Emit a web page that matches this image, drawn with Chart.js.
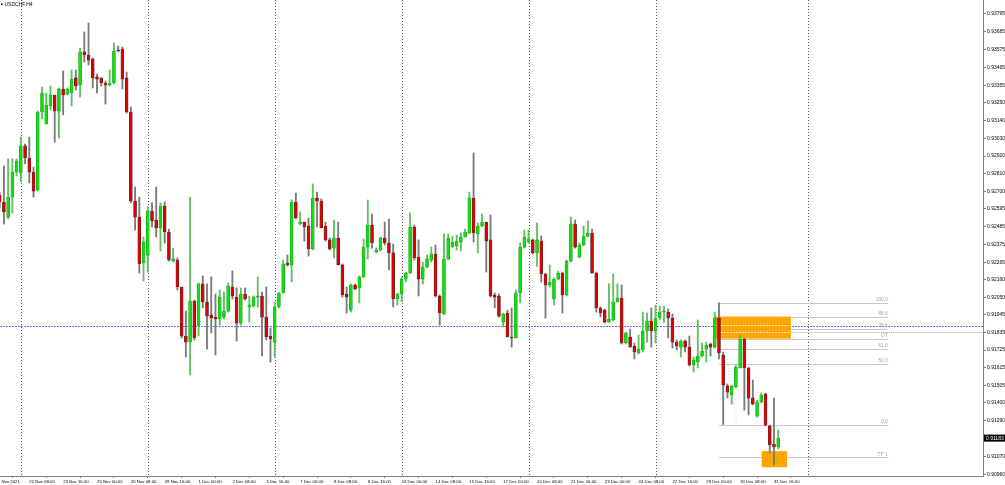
<!DOCTYPE html>
<html><head><meta charset="utf-8">
<script src="https://cdn.jsdelivr.net/npm/chart.js@4.4.1/dist/chart.umd.min.js"></script>
<style>html,body{margin:0;padding:0;background:#fff;overflow:hidden}#c{display:block}</style>
</head><body>
<canvas id="c" width="1005" height="485" style="width:1005px;height:485px"></canvas>
<script>
const symbolTitle = 'USDCHF,H4';
// H4 bars from 19 Nov 2021 04:00 to 31 Dec 2021 20:00
const openP = [0.92680,0.92637,0.92544,0.92667,0.92821,0.92815,0.92982,0.92908,0.92821,0.92711,
0.93191,0.93117,0.93228,0.93296,0.93197,0.93333,0.93302,0.93308,0.93401,0.93357,
0.93561,0.93542,0.93518,0.93407,0.93401,0.93370,0.93357,0.93370,0.93573,0.93579,
0.93401,0.93191,0.92643,0.92544,0.92261,0.92310,0.92581,0.92526,0.92477,0.92612,
0.92452,0.92273,0.92279,0.92113,0.91811,0.91774,0.92027,0.91873,0.92132,0.92021,
0.91941,0.91928,0.91916,0.91928,0.91965,0.92113,0.92051,0.91891,0.92070,0.91990,
0.91996,0.92051,0.92058,0.91928,0.91811,0.91774,0.91990,0.92076,0.92261,0.92249,
0.92637,0.92501,0.92513,0.92489,0.92347,0.92661,0.92643,0.92489,0.92403,0.92353,
0.92415,0.92249,0.92070,0.91971,0.92125,0.92107,0.92175,0.92359,0.92495,0.92329,
0.92341,0.92415,0.92384,0.92323,0.92039,0.92070,0.92162,0.92199,0.92483,0.92298,
0.92162,0.92236,0.92279,0.92316,0.92058,0.91947,0.92286,0.92359,0.92366,0.92390,
0.92421,0.92446,0.92661,0.92440,0.92489,0.92513,0.92403,0.92064,0.92058,0.91897,
0.91953,0.91805,0.91799,0.92076,0.92359,0.92390,0.92403,0.92323,0.92396,0.92193,
0.92125,0.92039,0.92162,0.92199,0.92064,0.92273,0.92501,0.92298,0.92372,0.92427,
0.92446,0.92199,0.91984,0.91971,0.91897,0.91910,0.92021,0.92045,0.91768,0.91805,
0.91750,0.91707,0.91725,0.91842,0.91904,0.91842,0.91922,0.91959,0.91959,0.91922,
0.91774,0.91743,0.91780,0.91743,0.91633,0.91651,0.91688,0.91731,0.91762,0.91743,
0.91922,0.91694,0.91503,0.91448,0.91497,0.91614,0.91793,0.91614,0.91429,0.91318,
0.91405,0.91454,0.91257,0.91146,0.91128];
const highP = [0.92698,0.92858,0.92902,0.92902,0.92902,0.93037,0.92994,0.93037,0.92852,0.93197,
0.93345,0.93308,0.93351,0.93296,0.93339,0.93444,0.93339,0.93450,0.93450,0.93585,
0.93684,0.93739,0.93524,0.93425,0.93401,0.93382,0.93450,0.93616,0.93598,0.93591,
0.93437,0.93222,0.92729,0.92667,0.92421,0.92606,0.92631,0.92729,0.92631,0.92637,
0.92470,0.92353,0.92292,0.92113,0.91965,0.92667,0.92033,0.92138,0.92181,0.92132,
0.92175,0.92070,0.92095,0.92082,0.92138,0.92212,0.92107,0.92107,0.92107,0.92058,
0.92058,0.92175,0.92082,0.92113,0.91861,0.92021,0.92082,0.92279,0.92310,0.92649,
0.92692,0.92575,0.92513,0.92538,0.92748,0.92698,0.92655,0.92513,0.92415,0.92526,
0.92513,0.92255,0.92113,0.92132,0.92132,0.92181,0.92409,0.92649,0.92563,0.92353,
0.92421,0.92513,0.92532,0.92378,0.92076,0.92175,0.92205,0.92569,0.92495,0.92403,
0.92267,0.92310,0.92359,0.92372,0.92064,0.92440,0.92440,0.92427,0.92433,0.92446,
0.92470,0.92698,0.92939,0.92507,0.92563,0.92513,0.92557,0.92076,0.92070,0.91953,
0.91971,0.91984,0.92095,0.92384,0.92464,0.92464,0.92409,0.92507,0.92427,0.92199,
0.92249,0.92169,0.92212,0.92205,0.92279,0.92544,0.92526,0.92384,0.92489,0.92520,
0.92470,0.92205,0.91990,0.91978,0.92132,0.92193,0.92132,0.92125,0.91836,0.91854,
0.91768,0.91817,0.91959,0.91953,0.91984,0.92002,0.91996,0.91996,0.91978,0.91947,
0.91787,0.91787,0.91787,0.91811,0.91682,0.91910,0.91768,0.91774,0.91768,0.91959,
0.92016,0.91713,0.91516,0.91509,0.91633,0.91817,0.91799,0.91620,0.91540,0.91417,
0.91460,0.91460,0.91263,0.91429,0.91232];
const lowP = [0.92600,0.92501,0.92532,0.92569,0.92797,0.92760,0.92871,0.92754,0.92667,0.92704,
0.93148,0.93117,0.93203,0.93006,0.93031,0.93173,0.93296,0.93228,0.93327,0.93283,
0.93499,0.93481,0.93339,0.93308,0.93351,0.93240,0.93351,0.93364,0.93561,0.93333,
0.93185,0.92631,0.92464,0.92199,0.92150,0.92205,0.92483,0.92421,0.92335,0.92384,
0.92273,0.92267,0.92095,0.91799,0.91682,0.91571,0.91787,0.91811,0.91984,0.91731,
0.91830,0.91694,0.91879,0.91916,0.91959,0.92039,0.91780,0.91879,0.92033,0.91897,
0.91990,0.91990,0.91688,0.91787,0.91651,0.91682,0.91984,0.92076,0.92242,0.92144,
0.92532,0.92495,0.92396,0.92304,0.92341,0.92483,0.92477,0.92396,0.92341,0.92292,
0.92249,0.92051,0.91953,0.91959,0.92095,0.92015,0.92169,0.92286,0.92353,0.92323,
0.92335,0.92372,0.92218,0.91990,0.92002,0.92021,0.92144,0.92199,0.92279,0.92058,
0.92132,0.92230,0.92267,0.92051,0.91879,0.91941,0.92279,0.92359,0.92341,0.92335,
0.92421,0.92440,0.92390,0.92323,0.92483,0.92205,0.92051,0.91984,0.91928,0.91867,
0.91805,0.91743,0.91799,0.92015,0.92353,0.92384,0.92316,0.92242,0.92144,0.91922,
0.92113,0.92002,0.92156,0.91953,0.92058,0.92267,0.92353,0.92292,0.92366,0.92421,
0.92199,0.91959,0.91928,0.91891,0.91897,0.91904,0.92021,0.91762,0.91762,0.91743,
0.91670,0.91700,0.91713,0.91774,0.91743,0.91768,0.91910,0.91897,0.91799,0.91737,
0.91725,0.91682,0.91713,0.91626,0.91589,0.91614,0.91682,0.91651,0.91688,0.91737,
0.91670,0.91266,0.91429,0.91392,0.91491,0.91614,0.91355,0.91325,0.91386,0.91312,
0.91399,0.91257,0.91091,0.91017,0.91115];
const closeP = [0.92637,0.92575,0.92667,0.92821,0.92889,0.92982,0.92908,0.92821,0.92704,0.93191,
0.93308,0.93234,0.93296,0.93197,0.93333,0.93296,0.93333,0.93394,0.93351,0.93561,
0.93542,0.93511,0.93401,0.93394,0.93370,0.93357,0.93370,0.93567,0.93567,0.93394,
0.93191,0.92643,0.92544,0.92255,0.92390,0.92581,0.92520,0.92477,0.92612,0.92452,
0.92279,0.92286,0.92113,0.91811,0.91774,0.92027,0.91799,0.92132,0.92021,0.91934,
0.91922,0.91916,0.92051,0.91965,0.92119,0.92058,0.91891,0.92070,0.92039,0.92002,
0.92051,0.92058,0.91928,0.91805,0.91793,0.91990,0.92076,0.92255,0.92249,0.92637,
0.92538,0.92513,0.92483,0.92347,0.92661,0.92643,0.92477,0.92403,0.92347,0.92415,
0.92249,0.92064,0.92051,0.92125,0.92101,0.92175,0.92359,0.92495,0.92384,0.92341,
0.92415,0.92384,0.92323,0.92039,0.92070,0.92162,0.92199,0.92483,0.92292,0.92162,
0.92236,0.92286,0.92316,0.92058,0.91953,0.92286,0.92415,0.92390,0.92396,0.92421,
0.92452,0.92661,0.92446,0.92489,0.92513,0.92396,0.92058,0.92051,0.91934,0.91947,
0.91805,0.91799,0.92076,0.92359,0.92421,0.92409,0.92323,0.92403,0.92193,0.92125,
0.92144,0.92162,0.92199,0.92064,0.92273,0.92501,0.92359,0.92372,0.92427,0.92446,
0.92199,0.91984,0.91953,0.91897,0.91916,0.92021,0.92045,0.91768,0.91830,0.91743,
0.91713,0.91731,0.91842,0.91904,0.91842,0.91922,0.91959,0.91965,0.91922,0.91774,
0.91750,0.91780,0.91743,0.91633,0.91663,0.91688,0.91719,0.91756,0.91743,0.91922,
0.91707,0.91509,0.91466,0.91503,0.91620,0.91793,0.91614,0.91429,0.91392,0.91405,
0.91448,0.91263,0.91140,0.91128,0.91183];

const xTickLabels = ['19 Nov 2021','22 Nov 08:00','23 Nov 16:00','25 Nov 00:00','26 Nov 08:00','29 Nov 16:00',
'1 Dec 00:00','2 Dec 08:00','3 Dec 16:00','7 Dec 00:00','8 Dec 08:00','9 Dec 16:00','13 Dec 00:00',
'14 Dec 08:00','15 Dec 16:00','17 Dec 00:00','20 Dec 08:00','21 Dec 16:00','23 Dec 00:00','24 Dec 08:00',
'27 Dec 16:00','29 Dec 00:00','30 Dec 08:00','31 Dec 16:00'];
const yTickLabels = ['0.93795','0.93685','0.93575','0.93465','0.93355','0.93250','0.93140','0.93030',
'0.92920','0.92810','0.92700','0.92595','0.92485','0.92375','0.92265','0.92160','0.92050','0.91945',
'0.91835','0.91725','0.91615','0.91505','0.91400','0.91290','0.91070','0.90960'];

const currentPrice = 0.91183;
const blueLinePrice = 0.91876;
const grayLinePrice = 0.91836;
const fibHigh = 0.92016;
const fibLow = 0.91266;
const fibLevels = [100, 88.6, 78.6, 70.5, 61.8, 50, 0, -27];
const fibLabels = ['100.0','88.6','78.6','OT','61.8','50.0','0.0','TP 1'];
const zoneUpperPrices = [0.91931, 0.91795];
const zoneLowerPrices = [0.91102, 0.91003];

// layout / view settings
const X_MIN = 0.075, X_MAX = 232.4;
const Y_MIN = 0.90949, Y_MAX = 0.93881;
const gridBars = [5, 35, 65, 95, 125, 155, 191];
const fibFromBar = 170, fibToBar = 210, fibTrendEndBar = 174.25;
const zoneUpperBars = [169.05, 187];
const zoneLowerBars = [180.1, 186.1];
const grayLineFromBar = 171;

const BULL = '#14dc14', BULL_EDGE = '#1f9f1f', BULL_WICK = '#5fc05f';
const BEAR = '#e00000', BEAR_EDGE = '#3a3a3a', BEAR_WICK = '#7a7a7a';
const FONT = "'Liberation Sans', Arial, sans-serif";
Chart.defaults.font.family = FONT;

const isBull = i => closeP[i] >= openP[i];
const wickData = openP.map((o, i) => ({x: i, y: [lowP[i], highP[i]]}));
const bodyData = openP.map((o, i) => ({x: i, y: [openP[i], closeP[i]]}));

const overlay = {
  id: 'overlay',
  beforeDatasetsDraw(chart) {
    const {ctx, chartArea: a, scales: {x, y}} = chart;
    const X = v => x.getPixelForValue(v), Y = v => y.getPixelForValue(v);
    const hy = v => Math.round(Y(v)) + 0.5;
    ctx.save();
    ctx.beginPath(); ctx.rect(a.left, a.top, a.right - a.left, a.bottom - a.top); ctx.clip();
    ctx.lineWidth = 1;
    // vertical dotted grid
    ctx.strokeStyle = '#555'; ctx.setLineDash([1, 2]);
    gridBars.forEach(b => {
      const px = Math.round(X(b)) + 0.5;
      ctx.beginPath(); ctx.moveTo(px, a.top); ctx.lineTo(px, a.bottom); ctx.stroke();
    });
    // fibonacci levels
    const fr = fibHigh - fibLow;
    const fx0 = X(fibFromBar), fx1 = X(fibToBar);
    ctx.setLineDash([]); ctx.strokeStyle = '#c8c8c8';
    fibLevels.forEach(lv => {
      const py = hy(fibLow + fr * lv / 100);
      ctx.beginPath(); ctx.moveTo(fx0, py); ctx.lineTo(fx1, py); ctx.stroke();
    });
    ctx.strokeStyle = '#cfcfcf'; ctx.setLineDash([1, 2]);
    ctx.beginPath(); ctx.moveTo(X(fibFromBar), Y(fibHigh)); ctx.lineTo(X(fibTrendEndBar), Y(fibLow)); ctx.stroke();
    // horizontal lines
    ctx.strokeStyle = '#6b6bff'; ctx.setLineDash([2, 1]);
    let py = hy(blueLinePrice);
    ctx.beginPath(); ctx.moveTo(a.left, py); ctx.lineTo(a.right, py); ctx.stroke();
    ctx.strokeStyle = '#a6a6a6'; ctx.setLineDash([1, 1]);
    py = hy(grayLinePrice);
    ctx.beginPath(); ctx.moveTo(X(grayLineFromBar), py); ctx.lineTo(a.right, py); ctx.stroke();
    // zones
    ctx.setLineDash([]);
    ctx.fillStyle = '#ffa500';
    [[zoneUpperBars, zoneUpperPrices], [zoneLowerBars, zoneLowerPrices]].forEach(([bx, pr]) => {
      const x0 = X(bx[0]), x1 = X(bx[1]), y0 = Y(pr[0]), y1 = Y(pr[1]);
      ctx.fillRect(x0, y0, x1 - x0, y1 - y0);
    });
    // lines seen through the upper zone
    const zx0 = X(zoneUpperBars[0]), zx1 = X(zoneUpperBars[1]);
    ctx.setLineDash([2, 1]); ctx.strokeStyle = 'rgba(255,240,210,0.9)';
    [blueLinePrice + 0.00003, grayLinePrice].forEach(p => {
      const q = hy(p);
      ctx.beginPath(); ctx.moveTo(zx0, q); ctx.lineTo(zx1, q); ctx.stroke();
    });
    // fib labels
    ctx.setLineDash([]);
    ctx.fillStyle = '#a4a4a4'; ctx.font = '4.8px ' + FONT; ctx.textAlign = 'right'; ctx.textBaseline = 'bottom';
    fibLevels.forEach((lv, k) => {
      ctx.fillText(fibLabels[k], fx1 - 0.5, Y(fibLow + fr * lv / 100) - 0.8);
    });
    ctx.restore();
  },
  afterDraw(chart) {
    const {ctx, scales: {y}} = chart;
    ctx.save();
    // title
    ctx.fillStyle = '#000';
    ctx.fillRect(1, 3.5, 1.5, 1.5);
    ctx.font = '5px ' + FONT; ctx.textAlign = 'left'; ctx.textBaseline = 'middle';
    ctx.fillText(symbolTitle, 4.5, 4.5);
    // current price label
    const py = y.getPixelForValue(currentPrice);
    ctx.fillStyle = '#000';
    ctx.fillRect(984, py - 3.4, 21, 7);
    ctx.fillStyle = '#fff';
    ctx.fillText(currentPrice.toFixed(5), 986, py + 0.2);
    ctx.restore();
  }
};

new Chart(document.getElementById('c'), {
  type: 'bar',
  data: {
    datasets: [
      {
        label: 'wick', data: wickData, order: 2, grouped: false, barThickness: 1.2, minBarLength: 1,
        backgroundColor: c => isBull(c.dataIndex) ? BULL_WICK : BEAR_WICK, borderWidth: 0
      },
      {
        label: 'body', data: bodyData, order: 1, grouped: false, barThickness: 3, minBarLength: 1,
        backgroundColor: c => isBull(c.dataIndex) ? BULL : BEAR,
        borderColor: c => isBull(c.dataIndex) ? BULL_EDGE : BEAR_EDGE,
        borderWidth: 0.6, borderSkipped: false
      }
    ]
  },
  options: {
    responsive: false, animation: false, devicePixelRatio: 1,
    layout: {padding: 0},
    plugins: {legend: {display: false}, tooltip: {enabled: false}},
    scales: {
      x: {
        type: 'linear', position: 'bottom', min: X_MIN, max: X_MAX, bounds: 'data', offset: false,
        afterBuildTicks: s => { s.ticks = xTickLabels.map((t, k) => ({value: -1 + 8 * k})); },
        afterFit: s => { s.height = 9; s.paddingLeft = 0; s.paddingRight = 0; },
        ticks: {
          autoSkip: false, maxRotation: 0, minRotation: 0, align: 'start', padding: 1,
          font: {size: 4.3}, color: '#000', callback: (v, k) => xTickLabels[k]
        },
        grid: {display: true, drawOnChartArea: false, drawTicks: true, tickLength: 2, color: '#808080'},
        border: {display: true, color: '#808080'}
      },
      y: {
        type: 'linear', position: 'right', min: Y_MIN, max: Y_MAX, bounds: 'data',
        afterBuildTicks: s => { s.ticks = yTickLabels.map(t => ({value: parseFloat(t)})); },
        afterFit: s => { s.width = 22; s.paddingTop = 0; s.paddingBottom = 0; },
        ticks: {
          autoSkip: false, padding: 1, font: {size: 5}, color: '#000',
          callback: (v, k) => yTickLabels[k]
        },
        grid: {display: true, drawOnChartArea: false, drawTicks: true, tickLength: 3, color: '#808080'},
        border: {display: true, color: '#808080'}
      }
    }
  },
  plugins: [overlay]
});
</script>
</body></html>
